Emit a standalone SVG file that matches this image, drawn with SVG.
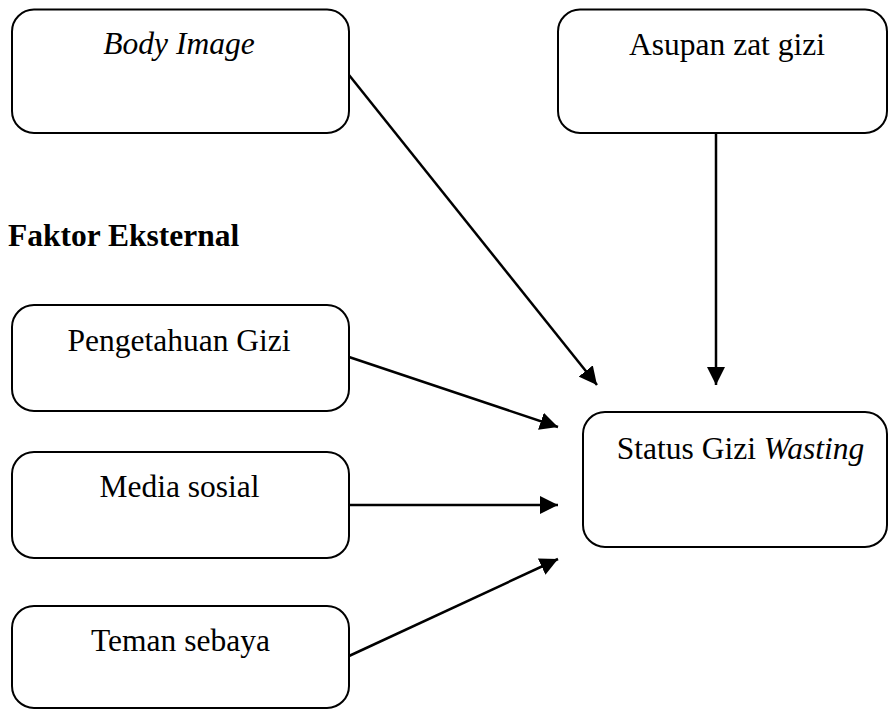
<svg xmlns="http://www.w3.org/2000/svg" width="888" height="709" viewBox="0 0 888 709">
<style>
.box{fill:#fff;stroke:#000;stroke-width:2}
.t{font-family:"Liberation Serif","Times New Roman",serif;font-size:31.5px;fill:#000;text-anchor:middle}
.i{font-style:italic}
.h{font-family:"Liberation Serif","Times New Roman",serif;font-size:31.5px;font-weight:bold;fill:#000}
.c{stroke:#000;stroke-width:2.5;fill:none;marker-end:url(#ah)}
</style>
<defs>
<marker id="ah" markerUnits="userSpaceOnUse" markerWidth="18" markerHeight="18" viewBox="0 0 16 16" refX="16" refY="8" orient="auto">
<path d="M0,0 L16,8 L0,16 Z" fill="#000"/>
</marker>
</defs>
<g id="body-image"><rect class="box" x="12" y="9.5" width="337" height="123.5" rx="22"/><text class="t i" x="179" y="54">Body Image</text></g>
<g id="asupan"><rect class="box" x="558" y="9.5" width="329" height="123.5" rx="22"/><text class="t" x="727" y="55">Asupan zat gizi</text></g>
<text class="h" x="8" y="246">Faktor Eksternal</text>
<g id="pengetahuan"><rect class="box" x="12" y="305" width="337" height="106" rx="22"/><text class="t" x="179" y="351">Pengetahuan Gizi</text></g>
<g id="media"><rect class="box" x="12" y="452" width="337" height="106" rx="22"/><text class="t" x="179.5" y="497">Media sosial</text></g>
<g id="teman"><rect class="box" x="12" y="606" width="337" height="102" rx="22"/><text class="t" x="180.5" y="651">Teman sebaya</text></g>
<g id="status"><rect class="box" x="583" y="412" width="304" height="135" rx="22"/><text class="t" x="740.5" y="459">Status Gizi <tspan class="i">Wasting</tspan></text></g>
<g id="connectors">
<line class="c" x1="349" y1="75" x2="597" y2="385"/>
<line class="c" x1="716" y1="133" x2="716" y2="385"/>
<line class="c" x1="349" y1="357" x2="558" y2="427"/>
<line class="c" x1="349" y1="505" x2="558" y2="505"/>
<line class="c" x1="349" y1="656" x2="558" y2="559"/>
</g>
</svg>
